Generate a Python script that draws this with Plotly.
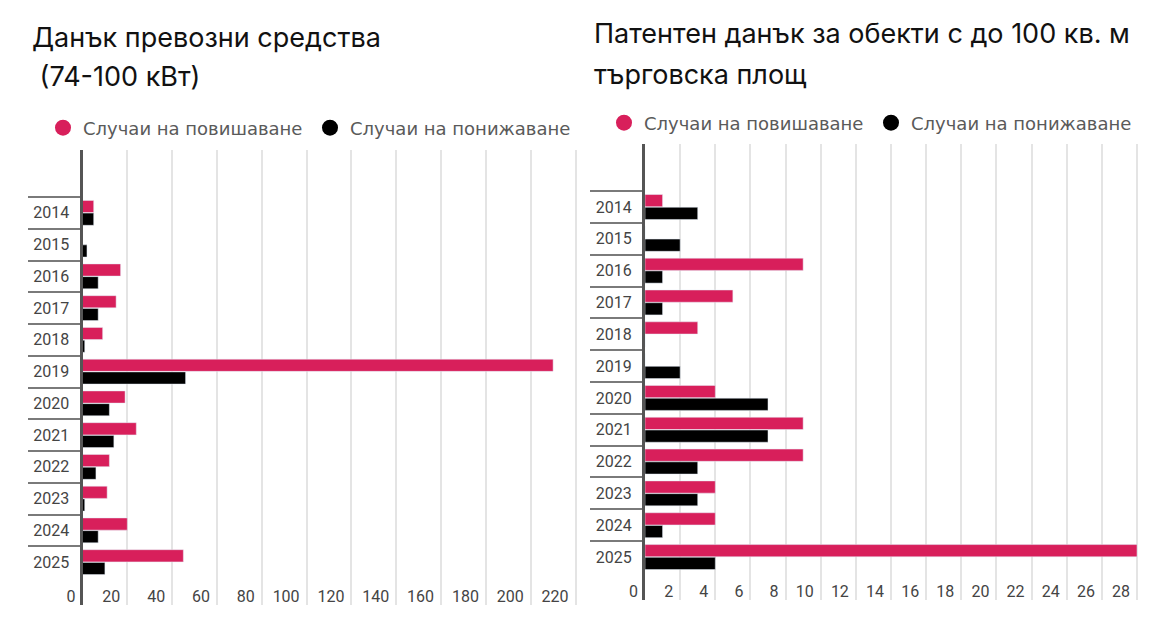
import plotly.graph_objects as go
from plotly.subplots import make_subplots

years = ['2014', '2015', '2016', '2017', '2018', '2019',
         '2020', '2021', '2022', '2023', '2024', '2025']

# Данък превозни средства (74-100 кВт)
vehicle_up = [5, 0, 17, 15, 9, 210, 19, 24, 12, 11, 20, 45]
vehicle_down = [5, 2, 7, 7, 1, 46, 12, 14, 6, 1, 7, 10]

# Патентен данък за обекти с до 100 кв. м търговска площ
patent_up = [1, 0, 9, 5, 3, 0, 4, 9, 9, 4, 4, 28]
patent_down = [3, 2, 1, 1, 0, 2, 7, 7, 3, 3, 1, 4]

left_title = ['Данък превозни средства', ' (74-100 кВт)']
right_title = ['Патентен данък за обекти с до 100 кв. м', 'търговска площ']
up_name = 'Случаи на повишаване'
down_name = 'Случаи на понижаване'

PINK = '#d81f5b'
BLACK = '#000000'

# the page body has an 8px margin, so the figure is drawn a bit smaller
# and positions below are given in window pixels, then converted
OFFSET = 8
FIG_W, FIG_H = 1157 - 2 * OFFSET, 638 - 2 * OFFSET


def px_x(x):
    return (x - OFFSET) / FIG_W


def px_y(y):
    return 1 - (y - OFFSET) / FIG_H


fig = make_subplots(rows=1, cols=2)

for col, up, down, leg in [(1, vehicle_up, vehicle_down, 'legend'),
                           (2, patent_up, patent_down, 'legend2')]:
    fig.add_trace(go.Bar(y=years, x=up, orientation='h', marker_color=PINK,
                         name=up_name, showlegend=False), row=1, col=col)
    fig.add_trace(go.Bar(y=years, x=down, orientation='h', marker_color=BLACK,
                         name=down_name, showlegend=False), row=1, col=col)
    # legend-only entries so the legend shows circles
    for name, color in [(up_name, PINK), (down_name, BLACK)]:
        fig.add_trace(go.Scatter(x=[None], y=[None], mode='markers', name=name,
                                 marker=dict(symbol='circle', size=16, color=color),
                                 legend=leg), row=1, col=col)

yaxis_style = dict(type='category', categoryorder='array', categoryarray=years,
                   range=[12.35, -1.98], tickson='boundaries', ticks='outside',
                   ticklen=52, tickwidth=2, tickcolor='#7a7a7a',
                   showline=True, linecolor='#555555', linewidth=3,
                   showgrid=False, zeroline=False, ticklabelstandoff=7,
                   automargin=False,
                   tickfont=dict(family='Roboto', size=16, color='#444444'))
xaxis_style = dict(tick0=0, showgrid=True, gridcolor='#e4e4e4', gridwidth=2,
                   zeroline=False, showline=False, ticks='', automargin=False,
                   ticklabelposition='inside left', ticklabeloverflow='allow',
                   ticklabelshift=-7, ticklabelstandoff=-6,
                   tickfont=dict(family='Roboto', size=16, color='#444444'))

fig.update_xaxes(xaxis_style)
fig.update_yaxes(yaxis_style)
fig.update_xaxes(range=[0, 221.1], dtick=20, domain=[px_x(82.5), px_x(578)], row=1, col=1)
fig.update_xaxes(range=[0, 28.17], dtick=2, domain=[px_x(645), px_x(1140)], row=1, col=2)
fig.update_yaxes(domain=[px_y(605), px_y(150)], row=1, col=1)
fig.update_yaxes(domain=[px_y(600), px_y(144)], row=1, col=2)

legend_style = dict(orientation='h', xanchor='left', yanchor='middle',
                    font=dict(family='DejaVu Sans', size=18, color='#5a5a5a'),
                    bgcolor='rgba(0,0,0,0)', entrywidth=222, entrywidthmode='pixels')

annotations = []
for lines, x, ys in [(left_title, 30, [38, 76]), (right_title, 592, [33, 74])]:
    for line, y in zip(lines, ys):
        annotations.append(dict(text=line, x=px_x(x), y=px_y(y), xref='paper', yref='paper',
                                xanchor='left', yanchor='middle', showarrow=False,
                                font=dict(family='Inter', size=27, color='#111111')))

fig.update_layout(
    width=FIG_W, height=FIG_H,
    margin=dict(l=0, r=0, t=0, b=0, autoexpand=False),
    paper_bgcolor='white', plot_bgcolor='white',
    barmode='group', bargap=0.2, bargroupgap=0.04,
    legend=dict(legend_style, x=px_x(43), y=px_y(128)),
    legend2=dict(legend_style, x=px_x(604), y=px_y(123)),
    annotations=annotations,
)

fig.write_html('out.html')
